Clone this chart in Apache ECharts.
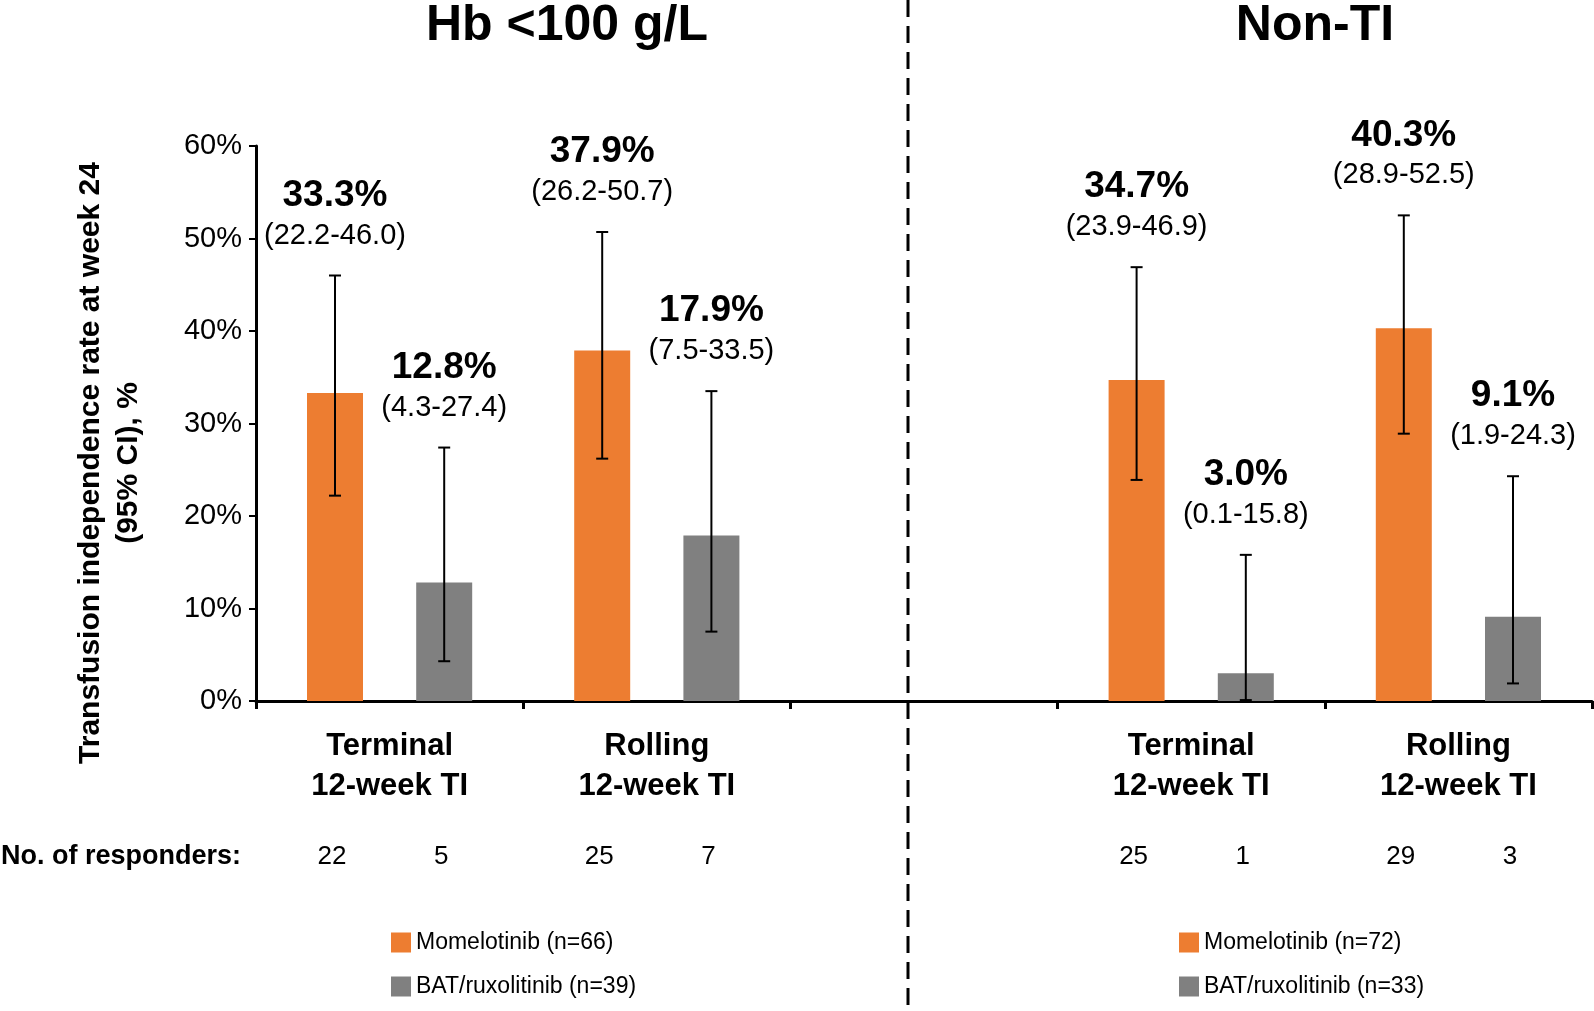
<!DOCTYPE html>
<html>
<head>
<meta charset="utf-8">
<script src="https://cdn.jsdelivr.net/npm/echarts@6/dist/echarts.min.js"></script>
<style>
html, body { margin: 0; padding: 0; background: #fff; }
#main { width: 1594px; height: 1011px; }
</style>
</head>
<body>
<div id="main"></div>
<script>
// categories (middle slot is the empty gap between the two panels)
var categories = ['Terminal\n12-week TI', 'Rolling\n12-week TI', '', 'Terminal\n12-week TI', 'Rolling\n12-week TI'];
var yTicks = [0, 10, 20, 30, 40, 50, 60];

// momelotinib
var momRate = [33.3, 37.9, null, 34.7, 40.3];
var momLow  = [22.2, 26.2, null, 23.9, 28.9];
var momHigh = [46.0, 50.7, null, 46.9, 52.5];
var momN    = [22, 25, null, 25, 29];

// BAT / ruxolitinib
var batRate = [12.8, 17.9, null, 3.0, 9.1];
var batLow  = [4.3, 7.5, null, 0.1, 1.9];
var batHigh = [27.4, 33.5, null, 15.8, 24.3];
var batN    = [5, 7, null, 1, 3];

var leftIdx = [0, 1];
var rightIdx = [3, 4];
var panelTitles = ['Hb <100 g/L', 'Non-TI'];
var legendNames = [
    ['Momelotinib (n=66)', 'BAT/ruxolitinib (n=39)'],
    ['Momelotinib (n=72)', 'BAT/ruxolitinib (n=33)']
];

var ORANGE = '#ED7D31';
var GREY = '#808080';
var FONT = 'Liberation Sans';
var BAR_W = 56;
var BAR_GAP = 0.95;
var OFF = BAR_W * (1 + BAR_GAP) / 2;

function pick(arr, idxs) {
    return arr.map(function (v, i) { return idxs.indexOf(i) >= 0 ? v : '-'; });
}

function errData(rate, low, high, n) {
    var out = [];
    for (var i = 0; i < rate.length; i++) {
        if (rate[i] != null) out.push([i, low[i], high[i], rate[i], n[i]]);
    }
    return out;
}

function errRender(offset) {
    return function (params, api) {
        var base = api.coord([api.value(0), 0]);
        var lo = api.coord([api.value(0), api.value(1)]);
        var hi = api.coord([api.value(0), api.value(2)]);
        var x = base[0] + offset;
        var ln = { stroke: '#000', lineWidth: 2 };
        return {
            type: 'group',
            children: [
                { type: 'line', shape: { x1: x, y1: lo[1], x2: x, y2: hi[1] }, style: ln },
                { type: 'line', shape: { x1: x - 6, y1: hi[1], x2: x + 6, y2: hi[1] }, style: ln },
                { type: 'line', shape: { x1: x - 6, y1: lo[1], x2: x + 6, y2: lo[1] }, style: ln },
                { type: 'text', x: x, y: hi[1] - 80, style: {
                    text: api.value(3).toFixed(1) + '%', fontFamily: FONT, fontWeight: 'bold', fontSize: 37,
                    fill: '#000', align: 'center', verticalAlign: 'middle' } },
                { type: 'text', x: x, y: hi[1] - 40, style: {
                    text: '(' + api.value(1).toFixed(1) + '-' + api.value(2).toFixed(1) + ')', fontFamily: FONT, fontSize: 29,
                    fill: '#000', align: 'center', verticalAlign: 'middle' } },
                { type: 'text', x: x - 3, y: base[1] + 156, style: {
                    text: String(api.value(4)), fontFamily: FONT, fontSize: 26,
                    fill: '#000', align: 'center', verticalAlign: 'middle' } }
            ]
        };
    };
}

function barSeries(name, stack, data, color) {
    return {
        name: name, type: 'bar', stack: stack, data: data,
        barWidth: BAR_W, barGap: (BAR_GAP * 100) + '%',
        itemStyle: { color: color }
    };
}

var myChart = echarts.init(document.getElementById('main'));

myChart.setOption({
    animation: false,
    textStyle: { fontFamily: FONT, color: '#000' },
    grid: { left: 256, right: 2, top: 146, bottom: 310 },
    xAxis: {
        type: 'category',
        data: categories,
        axisLine: { lineStyle: { color: '#000', width: 3 } },
        axisTick: { show: true, length: 8, lineStyle: { color: '#000', width: 3 } },
        axisLabel: { fontFamily: FONT, fontSize: 31, fontWeight: 'bold', color: '#000', lineHeight: 40, margin: 25, interval: 0 }
    },
    yAxis: {
        type: 'value',
        min: yTicks[0], max: yTicks[yTicks.length - 1], interval: 10,
        axisLine: { show: true, lineStyle: { color: '#000', width: 3 } },
        axisTick: { show: true, length: 7, lineStyle: { color: '#000', width: 2 } },
        splitLine: { show: false },
        axisLabel: { formatter: '{value}%', fontFamily: FONT, fontSize: 29, color: '#000', margin: 14 }
    },
    legend: [
        { data: legendNames[0], orient: 'vertical', left: 386, top: 926, itemWidth: 20, itemHeight: 20, itemGap: 21,
          icon: 'rect', textStyle: { fontFamily: FONT, fontSize: 23, color: '#000' }, selectedMode: false },
        { data: legendNames[1], orient: 'vertical', left: 1174, top: 926, itemWidth: 20, itemHeight: 20, itemGap: 21,
          icon: 'rect', textStyle: { fontFamily: FONT, fontSize: 23, color: '#000' }, selectedMode: false }
    ],
    series: [
        barSeries(legendNames[0][0], 'mom', pick(momRate, leftIdx), ORANGE),
        barSeries(legendNames[0][1], 'bat', pick(batRate, leftIdx), GREY),
        barSeries(legendNames[1][0], 'mom', pick(momRate, rightIdx), ORANGE),
        barSeries(legendNames[1][1], 'bat', pick(batRate, rightIdx), GREY),
        { type: 'custom', z: 5, renderItem: errRender(-OFF), data: errData(momRate, momLow, momHigh, momN) },
        { type: 'custom', z: 5, renderItem: errRender(OFF), data: errData(batRate, batLow, batHigh, batN) }
    ],
    graphic: [
        { type: 'line', shape: { x1: 908, y1: 0, x2: 908, y2: 1011 },
          style: { stroke: '#000', lineWidth: 3, lineDash: [17, 9] } },
        { type: 'text', x: 567, y: 26, style: { text: panelTitles[0], fontFamily: FONT, fontWeight: 'bold', fontSize: 50,
          fill: '#000', align: 'center', verticalAlign: 'middle' } },
        { type: 'text', x: 1315, y: 26, style: { text: panelTitles[1], fontFamily: FONT, fontWeight: 'bold', fontSize: 50,
          fill: '#000', align: 'center', verticalAlign: 'middle' } },
        { type: 'text', x: 110, y: 463, rotation: Math.PI / 2, style: {
          text: 'Transfusion independence rate at week 24\n(95% CI), %', fontFamily: FONT, fontWeight: 'bold', fontSize: 30,
          lineHeight: 38, fill: '#000', align: 'center', verticalAlign: 'middle' } },
        { type: 'text', x: 1, y: 857, style: { text: 'No. of responders:', fontFamily: FONT, fontWeight: 'bold', fontSize: 27,
          fill: '#000', align: 'left', verticalAlign: 'middle' } }
    ]
});
</script>
</body>
</html>
